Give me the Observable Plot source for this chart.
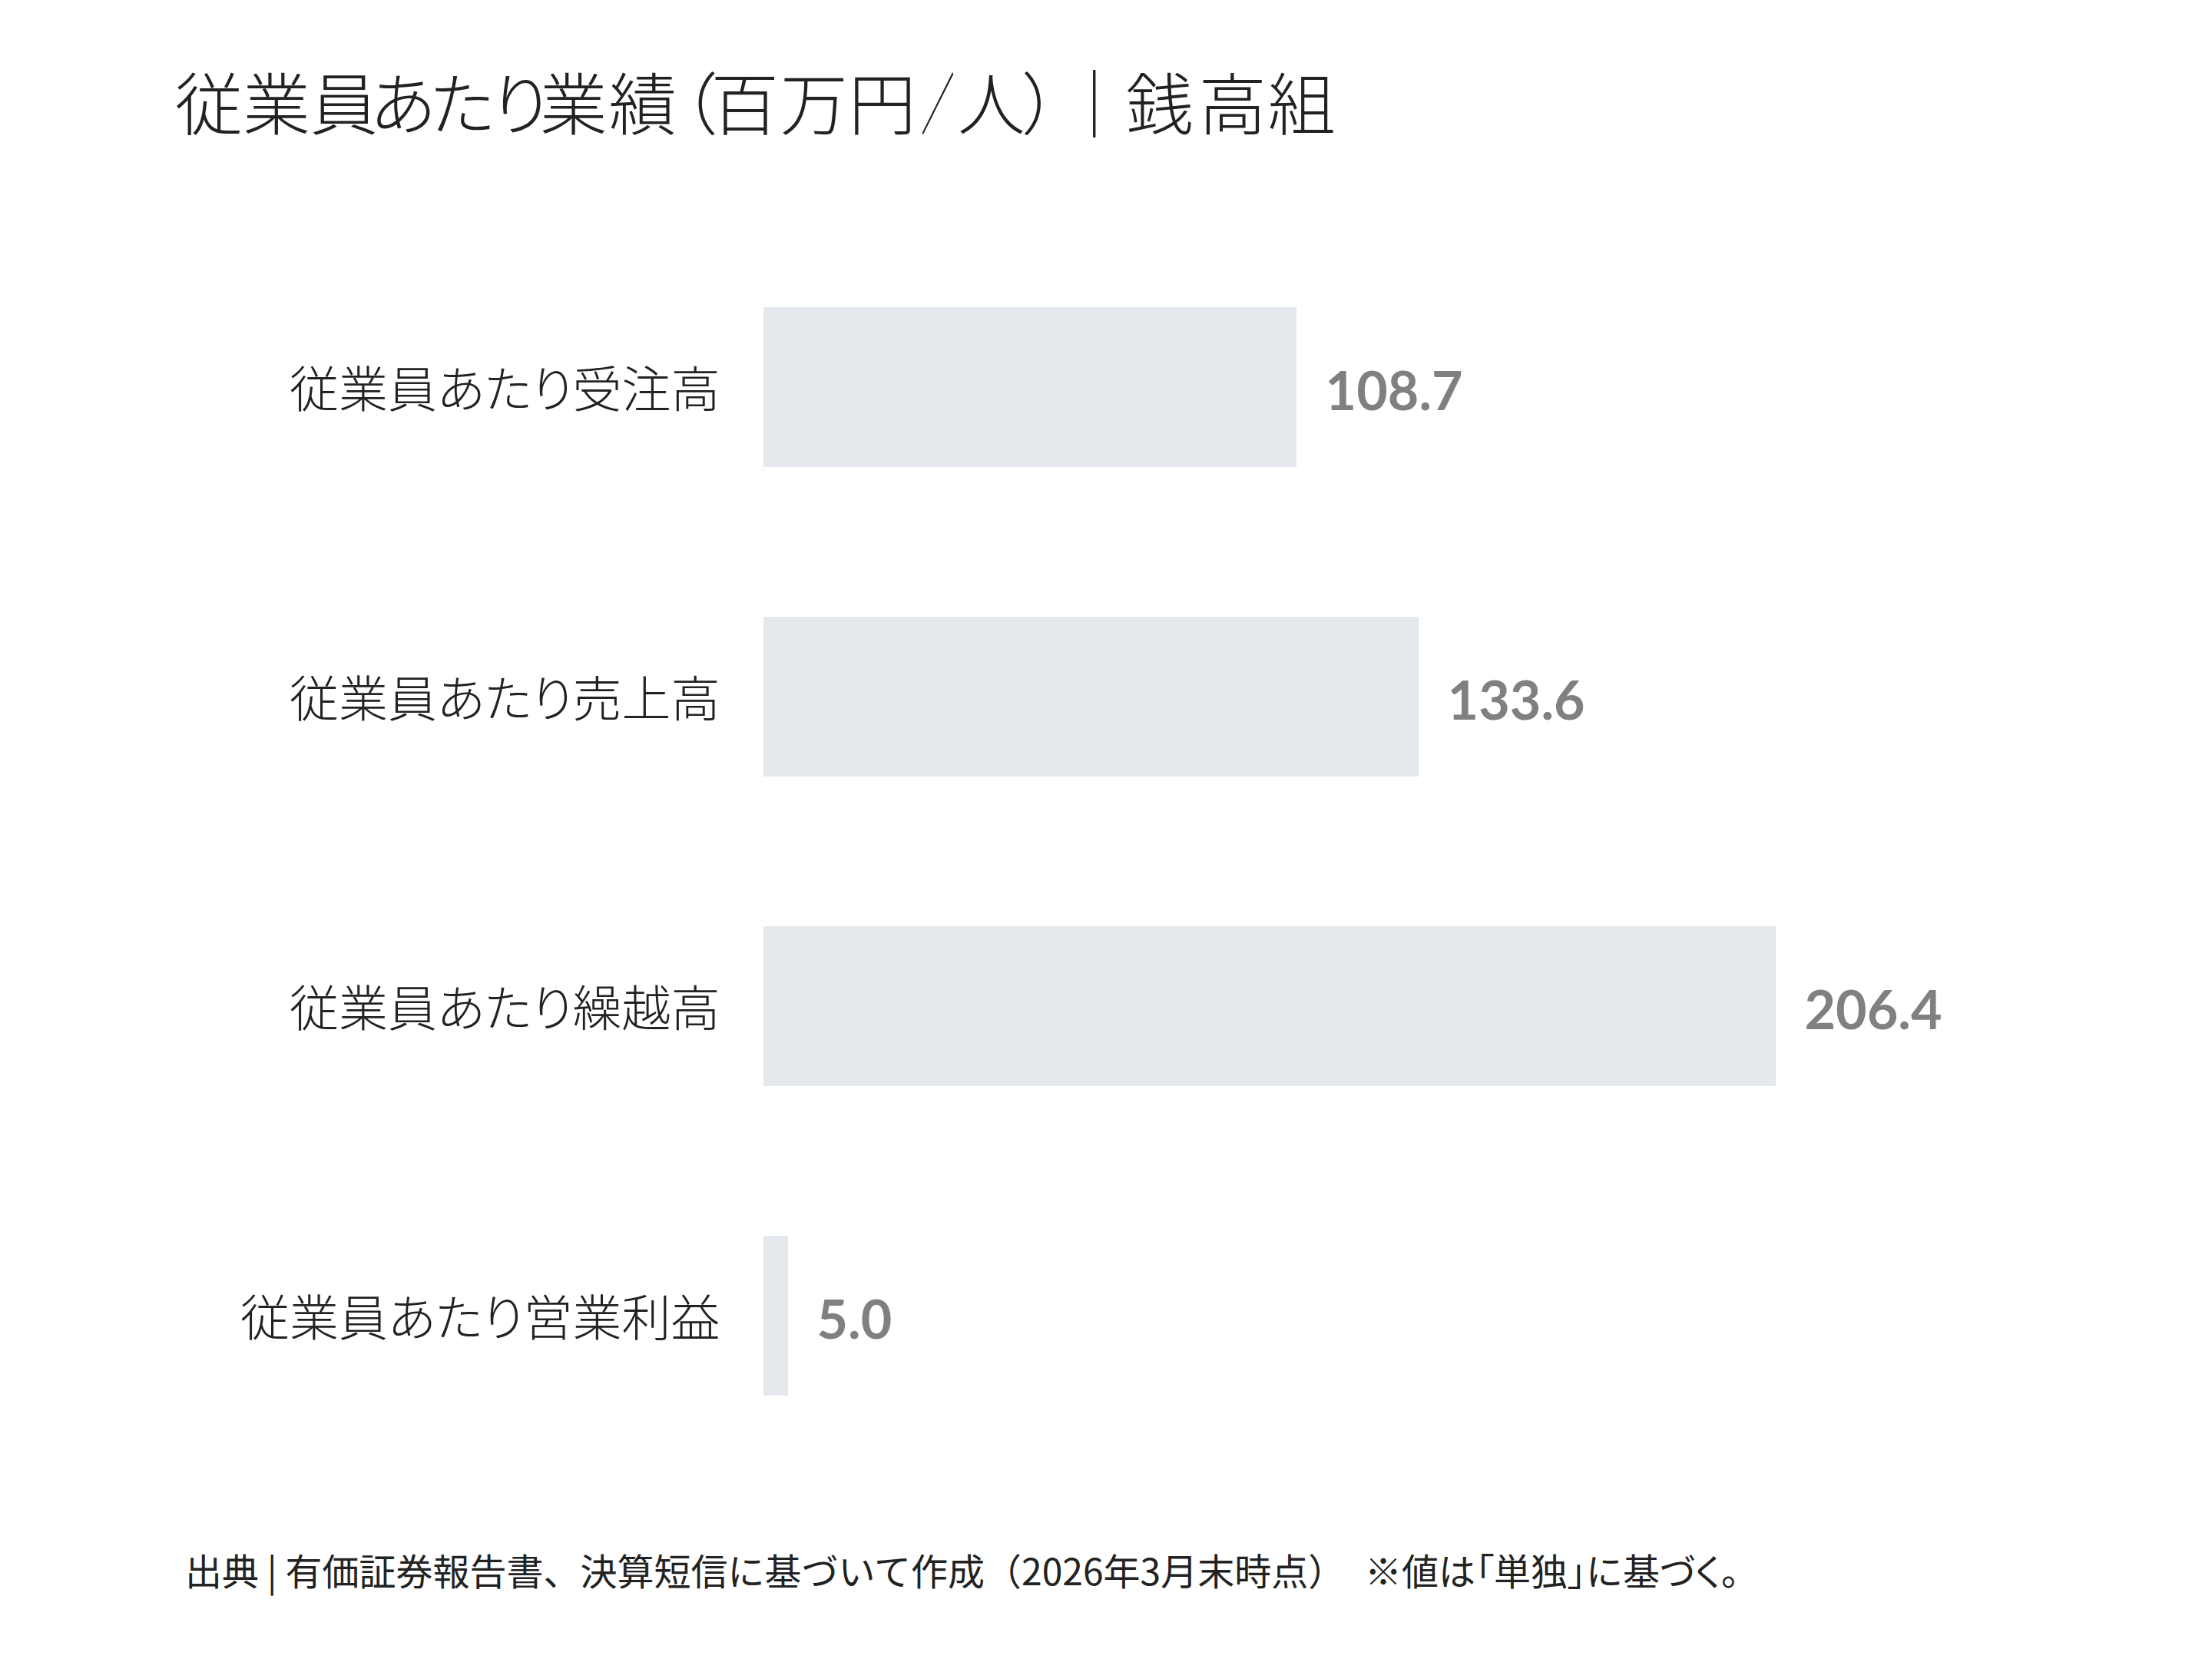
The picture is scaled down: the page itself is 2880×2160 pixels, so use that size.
<!DOCTYPE html>
<html><head><meta charset="utf-8">
<script src="https://cdn.jsdelivr.net/npm/d3@7"></script>
<script src="https://cdn.jsdelivr.net/npm/@observablehq/plot@0.6"></script>
<style>
body{margin:0;background:#fff;width:2880px;height:2160px;position:relative;overflow:hidden;font-family:"Noto Sans CJK JP",sans-serif;}
#title{position:absolute;left:228px;top:86px;font-size:88px;line-height:1;font-weight:300;color:#222;font-feature-settings:"palt";white-space:nowrap;}
#chart{position:absolute;left:0;top:190px;}
#caption{position:absolute;left:241px;top:2019px;font-size:48px;line-height:1;font-weight:400;color:#222;white-space:nowrap;}
#caption .p{font-feature-settings:"palt";}
svg text{font-feature-settings:"palt";}
</style></head>
<body>
<div id="title"></div>
<div id="chart"></div>
<div id="caption"></div>
<script>
const categories = ["従業員あたり受注高", "従業員あたり売上高", "従業員あたり繰越高", "従業員あたり営業利益"];
const values = [108.7, 133.6, 206.4, 5.0];
const valueLabels = ["108.7", "133.6", "206.4", "5.0"];
const titleText = "従業員あたり業績（百万円／人）｜銭高組";
const captionText = "出典 | 有価証券報告書、決算短信に基づいて作成（2026年3月末時点） ※値は「単独」に基づく。";

// Title stays real text; per-character letter-spacing only mimics the reference font's metrics.
const titleSpacing = {2: -10, 3: -7, 4: -4, 5: -11, 6: 2, 7: 7, 8: -6, 9: 2, 10: 1, 11: -16, 12: -18, 13: -2, 14: 4, 15: -3, 16: 7, 17: 2};
const titleEl = document.getElementById("title");
[...titleText].forEach((ch, i) => {
  const s = document.createElement("span");
  s.textContent = ch;
  if (titleSpacing[i] !== undefined) s.style.letterSpacing = titleSpacing[i] + "px";
  if (ch === "／") {
    s.style.display = "inline-block";
    s.style.transformOrigin = "44px 50%";
    s.style.transform = "scaleX(0.5)";
  }
  titleEl.appendChild(s);
});

// Caption: plain text runs, with proportional metrics on the last part (as in the reference)
const capEl = document.getElementById("caption");
const capChars = [...captionText];
const gapIdx = capChars.lastIndexOf("）");
const paltFrom = capChars.indexOf("「");
let run = "", runKey = null;
function flush() {
  if (!run) return;
  const s = document.createElement("span");
  s.textContent = run;
  if (runKey === "p") s.className = "p";
  if (runKey === "gap") s.style.marginRight = "15px";
  capEl.appendChild(s);
  run = "";
}
capChars.forEach((ch, i) => {
  let key = "n";
  if (i === gapIdx) key = "gap";
  else if (i >= paltFrom && "「」づく。".includes(ch)) key = "p";
  if (key !== runKey) { flush(); runKey = key; }
  run += ch;
});
flush();

const data = categories.map((c, i) => ({category: c, value: values[i], label: valueLabels[i]}));

const plot = Plot.plot({
  width: 2880,
  height: 1839,
  marginLeft: 994,
  marginRight: 568,
  marginTop: 8,
  marginBottom: 10,
  x: {domain: [0, 206.4], axis: null},
  y: {domain: categories, paddingInner: 0.484, paddingOuter: 0.5, label: null},
  style: {background: "white", fontFamily: '"Noto Sans CJK JP", sans-serif', overflow: "visible"},
  marks: [
    Plot.barX(data, {x: "value", y: "category", fill: "#e5e8ed"}),
    Plot.text(data, {x: "value", y: "category", text: "label", dx: 37, dy: 7, textAnchor: "start",
      fontFamily: "Lato", fontWeight: "bold", fontSize: 70, fill: "#808080"}),
    Plot.axisY({tickSize: 0, tickPadding: 57, dy: 5, fontSize: 64, fontWeight: 300, fill: "#222", label: null})
  ]
});
document.getElementById("chart").appendChild(plot);
</script>
</body></html>
